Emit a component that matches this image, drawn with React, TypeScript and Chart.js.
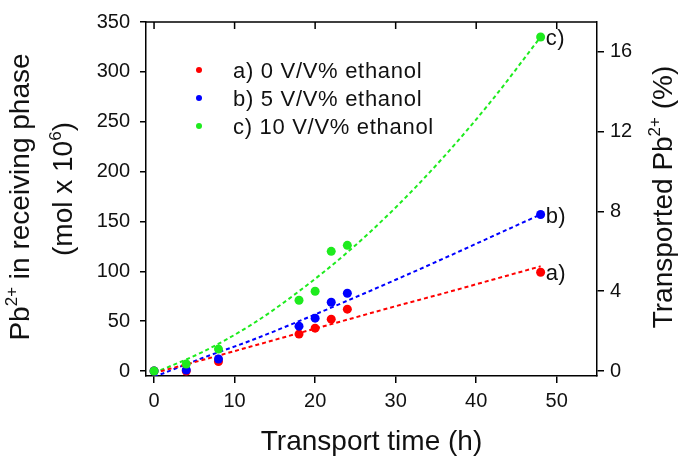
import React, { useEffect, useRef } from 'react';
import { Chart, registerables } from 'chart.js';

Chart.register(...registerables);

// ---- data ----
const times = [0, 4, 8, 18, 20, 22, 24, 48];
const red0 = [0, 0, 9.5, 37, 43, 52, 62, 99];
const blue5 = [0, 1, 12, 45, 53, 69, 78, 157];
const green10 = [0, 7, 22, 71, 80, 120, 126, 335];

const fitTimes = [0, 6, 12, 18, 24, 30, 36, 42, 48];
const redFit = [-2, 11, 24.5, 38, 51.5, 65, 78, 91.5, 105];
const blueFit = [-6, 13, 30.5, 50, 70.5, 91.5, 113, 135, 157];
const greenFit = [-2, 19, 46, 80, 119, 164, 215, 272, 335];

const seriesLabels = ['a) 0 V/V% ethanol', 'b) 5 V/V% ethanol', 'c) 10 V/V% ethanol'];
const endLabels = ['a)', 'b)', 'c)'];
const xTitle = 'Transport time (h)';

const RED = 'rgb(255,0,0)';
const BLUE = 'rgb(0,0,255)';
const GREEN = 'rgb(30,235,30)';
const TEXT = '#111';
const FONT = '"Liberation Sans", Arial, sans-serif';

type Part = [string, boolean];

function richText(ctx: CanvasRenderingContext2D, parts: Part[], size: number, x: number, y: number, rotate: boolean) {
  ctx.save();
  ctx.translate(x, y);
  if (rotate) ctx.rotate(-Math.PI / 2);
  const supSize = Math.round(size * 0.62);
  let w = 0;
  for (const [t, sup] of parts) {
    ctx.font = `${sup ? supSize : size}px ${FONT}`;
    w += ctx.measureText(t).width;
  }
  ctx.textAlign = 'left';
  ctx.textBaseline = 'alphabetic';
  ctx.fillStyle = TEXT;
  const base = size * 0.35;
  let cx = -w / 2;
  for (const [t, sup] of parts) {
    ctx.font = `${sup ? supSize : size}px ${FONT}`;
    ctx.fillText(t, cx, sup ? base - size * 0.42 : base);
    cx += ctx.measureText(t).width;
  }
  ctx.restore();
}

const decorPlugin = {
  id: 'decor',
  afterDatasetsDraw(chart: any) {
    const ctx: CanvasRenderingContext2D = chart.ctx;
    const { left, right, top } = chart.chartArea;
    const xs = chart.scales.x;
    ctx.save();
    // top border with inward ticks
    ctx.strokeStyle = '#000';
    ctx.lineWidth = 1.5;
    ctx.beginPath();
    ctx.moveTo(left, top);
    ctx.lineTo(right, top);
    for (const t of xs.ticks) {
      const px = xs.getPixelForValue(t.value);
      ctx.moveTo(px, top);
      ctx.lineTo(px, top + 7);
    }
    ctx.stroke();

    // legend inside plot
    const colors = [RED, BLUE, GREEN];
    seriesLabels.forEach((lab, i) => {
      const cy = top + 48 + i * 28;
      ctx.fillStyle = colors[i];
      ctx.beginPath();
      ctx.arc(left + 53, cy, 3, 0, Math.PI * 2);
      ctx.fill();
      ctx.fillStyle = TEXT;
      ctx.font = `22px ${FONT}`;
      (ctx as any).letterSpacing = '0.7px';
      ctx.textAlign = 'left';
      ctx.textBaseline = 'middle';
      ctx.fillText(lab, left + 87, cy + 2);
      (ctx as any).letterSpacing = '0px';
    });

    // end labels next to last points
    [0, 1, 2].forEach((di) => {
      const meta = chart.getDatasetMeta(di);
      const pt = meta.data[meta.data.length - 1];
      ctx.fillStyle = TEXT;
      ctx.font = `22px ${FONT}`;
      (ctx as any).letterSpacing = '0.5px';
      ctx.textAlign = 'left';
      ctx.textBaseline = 'middle';
      ctx.fillText(endLabels[di], pt.x + 5, pt.y + 2);
      (ctx as any).letterSpacing = '0px';
    });
    ctx.restore();
  },
  afterDraw(chart: any) {
    const ctx: CanvasRenderingContext2D = chart.ctx;
    const { top, bottom } = chart.chartArea;
    const mid = (top + bottom) / 2;
    richText(ctx, [['Pb', false], ['2+', true], [' in receiving phase', false]], 28, 19, mid - 2, true);
    richText(ctx, [['(mol x 10', false], ['6', true], [')', false]], 28, 62.5, mid - 10, true);
    richText(ctx, [['Transported Pb', false], ['2+', true], [' (%)', false]], 28, 662, mid - 2, true);
  },
};

function pts(xs: number[], ys: number[]) {
  return xs.map((x, i) => ({ x, y: ys[i] }));
}

export default function App() {
  const ref = useRef<HTMLCanvasElement>(null);
  useEffect(() => {
    const canvas = ref.current!;
    const dot = (label: string, data: number[], color: string, order: number) => ({
      label,
      data: pts(times, data),
      backgroundColor: color,
      borderColor: color,
      borderWidth: 0,
      pointRadius: 4.5,
      showLine: false,
      order,
    });
    const fit = (data: number[], color: string) => ({
      label: '',
      data: pts(fitTimes, data),
      borderColor: color,
      backgroundColor: color,
      borderWidth: 2,
      borderDash: [4, 3],
      pointRadius: 0,
      showLine: true,
      cubicInterpolationMode: 'monotone',
      order: 5,
    });
    const tickFont = { size: 20, family: FONT };
    const grid = { drawOnChartArea: false, tickLength: 7, color: '#000', lineWidth: 1.5 };
    const border = { color: '#000', width: 1.5 };
    const chart = new Chart(canvas, {
      type: 'scatter',
      data: {
        datasets: [
          dot(seriesLabels[0], red0, RED, 3),
          dot(seriesLabels[1], blue5, BLUE, 2),
          dot(seriesLabels[2], green10, GREEN, 1),
          fit(redFit, RED),
          fit(blueFit, BLUE),
          fit(greenFit, GREEN),
        ] as any,
      },
      options: {
        responsive: false,
        animation: false,
        layout: { padding: { top: 13, left: 0, right: 0, bottom: 0 } },
        plugins: { legend: { display: false }, tooltip: { enabled: false } },
        scales: {
          x: {
            type: 'linear',
            position: 'bottom',
            min: -1,
            max: 55,
            afterFit: (s: any) => { s.height = 86; },
            ticks: { stepSize: 10, includeBounds: false, font: tickFont, color: TEXT, padding: 6, maxRotation: 0, autoSkip: false },
            grid,
            border,
            title: { display: true, text: xTitle, font: { size: 28, family: FONT }, color: TEXT, padding: { top: 0, bottom: 3 } },
          },
          y: {
            type: 'linear',
            position: 'left',
            min: -5,
            max: 350,
            afterFit: (s: any) => { s.width = 146; },
            ticks: { stepSize: 50, includeBounds: false, font: tickFont, color: TEXT, padding: 10, autoSkip: false },
            grid: { ...grid, tickLength: 6 },
            border,
          },
          y2: {
            type: 'linear',
            position: 'right',
            min: -0.25,
            max: 17.5,
            afterFit: (s: any) => { s.width = 88; },
            ticks: { stepSize: 4, includeBounds: false, font: tickFont, color: TEXT, padding: 6, autoSkip: false },
            grid,
            border,
          },
        },
      } as any,
      plugins: [decorPlugin],
    });
    return () => chart.destroy();
  }, []);
  return (
    <div style={{ position: 'absolute', left: 0, top: 0, width: 685, height: 462, background: '#fff' }}>
      <canvas ref={ref} width={685} height={462} />
    </div>
  );
}
